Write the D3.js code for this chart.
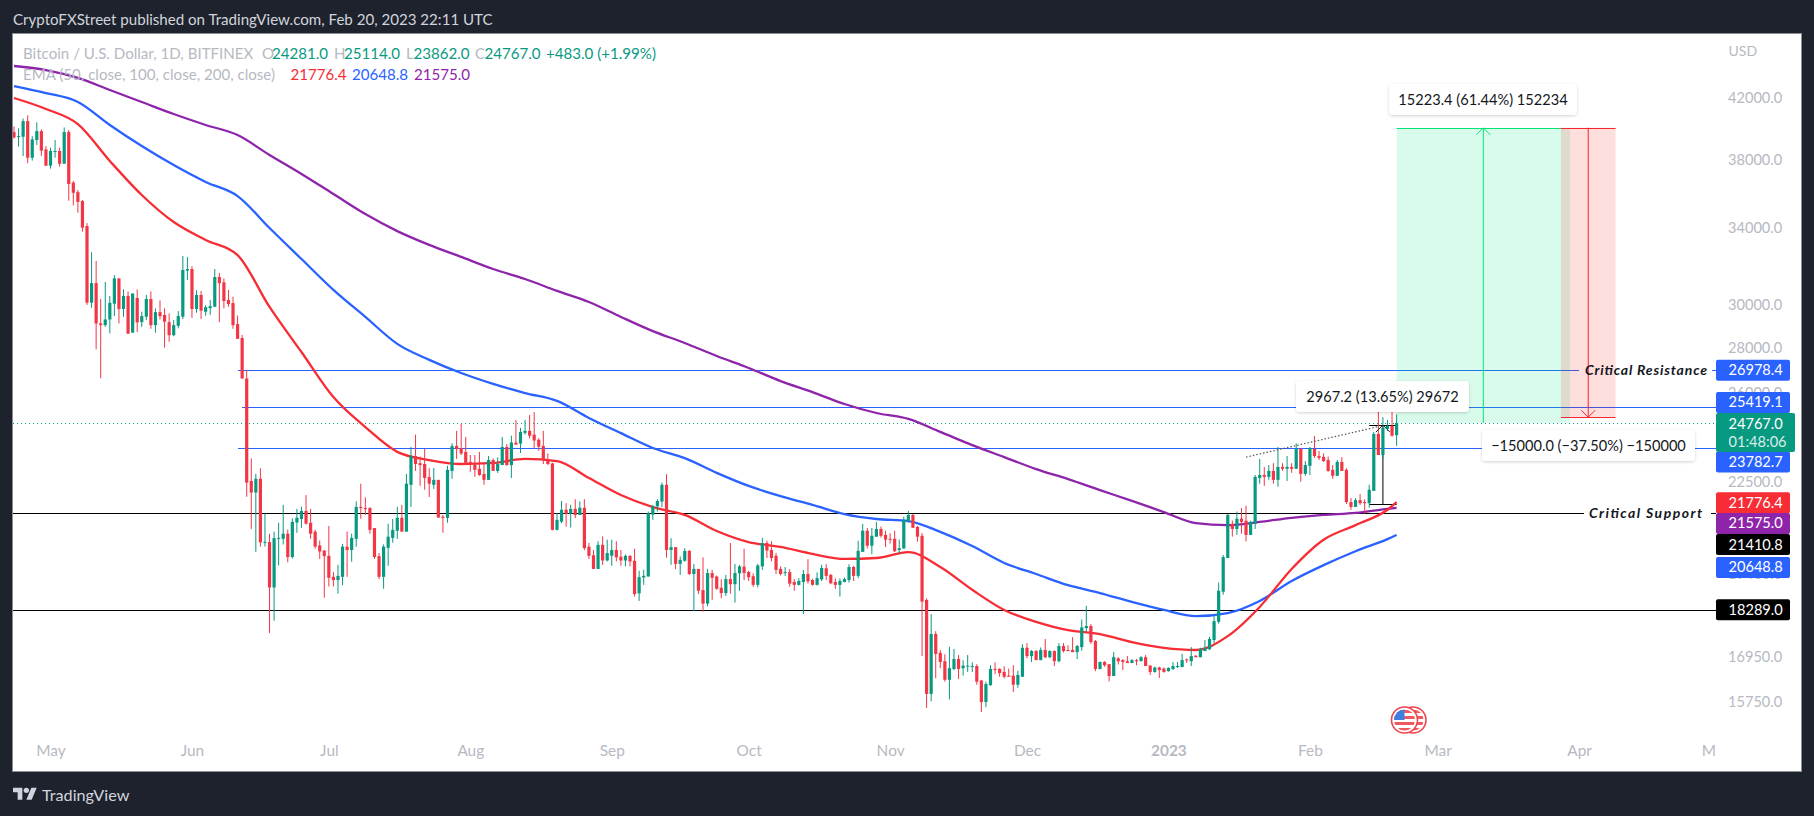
<!DOCTYPE html>
<html>
<head>
<meta charset="utf-8">
<style>
    html, body { margin: 0; padding: 0; background: #1e222d; overflow: hidden; }
    text { font-family: Lato, 'Noto Sans', sans-serif; }
</style>
<script src="https://cdn.jsdelivr.net/npm/d3@7"></script>
</head>
<body>
<div id="chart"></div>
<script>
// daily bars, one row per month, first bar is Apr 23 2022
const firstBar = new Date(2022, 3, 23);

const opens = [
    39720,39420,39420,40430,38100,39210,39780,38620,
    37610,38480,38520,37730,39720,36590,36030,35510,34100,30110,31080,29110,29030,29300,30060,31320,29800,30440,28680,30340,29170,29430,30290,29030,29650,29510,29170,28560,29000,29430,31720,
    31800,29800,30490,29670,29840,29910,31390,31120,30240,30090,29080,28430,26620,22540,22120,22620,20400,20410,18960,20530,20520,20690,19920,21070,21190,21470,21060,20760,20300,20130,
    19960,19290,19190,19290,20260,20150,20520,21610,21570,21570,20880,19950,19290,20220,20550,20790,21230,20760,22400,23470,23200,23170,22680,22400,22580,21270,21230,22910,23860,23780,23630,
    23250,23130,22990,22800,22580,23320,22910,23130,23820,23130,23990,23950,24370,24450,24300,24100,23860,23320,23190,20820,21100,21510,21370,21540,21330,21580,20260,19980,19540,20320,19810,
    19960,20150,19930,19810,19960,19800,18780,19270,19300,21340,21630,21800,22400,20150,20240,19700,19800,20120,19380,19540,18880,18470,19410,19300,18950,18790,19220,19060,19400,19610,
    19440,19310,19040,19620,20380,20150,19960,19540,19410,19440,19130,19040,19130,19380,19190,19040,19210,19560,19350,19130,19040,19130,19190,19600,19320,20090,20790,20290,20590,20850,20650,
    20520,20520,20150,20200,21130,21330,20920,20620,18580,15950,17580,17050,16820,16320,16610,16880,16630,16690,16670,16690,16300,15740,16180,16610,16610,16530,16430,16430,16190,16400,
    17190,16960,17100,16850,17130,16930,17100,16820,17240,17130,17130,17070,17210,17750,17810,17380,16610,16800,16740,16420,16900,16850,16820,16770,16850,16820,16930,16700,16530,16650,16620,
    16550,16610,16660,16660,16870,16820,16970,16930,17100,17150,17410,17930,18830,19890,21025,20850,21200,21130,20650,21020,22650,22760,22690,22910,22580,23060,22990,23060,22990,23740,22800,
    23100,23740,23470,23440,23320,22950,22730,23250,22950,21780,21610,21850,21780,21740,22180,24330,23510,24530,24650,24281
];
const highs = [
    40080,39950,40600,40810,39460,40350,39890,38830,
    38730,39210,38730,40020,39850,36690,36150,35570,34260,32680,32220,30290,31140,30440,31490,31320,30770,30660,30560,30770,29670,30490,30660,29830,30220,29830,29590,29270,29700,32480,32430,
    31950,30720,30690,29990,30240,31800,31600,31320,30740,30400,29490,28570,26980,23380,22800,23010,21380,20680,20760,21060,21680,20830,21210,21540,21620,22030,21540,20820,20460,20150,
    20950,19440,19670,20350,20760,20690,21810,22440,21950,21600,20880,20050,20330,21030,21190,21610,21680,22800,23820,24300,23450,23740,23010,23020,22580,21330,23100,23960,24450,24730,24210,
    23510,23510,23630,23210,23470,23380,23420,24210,23930,24260,24890,24570,24890,25090,25210,24160,24450,23570,23220,21390,21820,21740,21680,21880,21800,21880,20380,20150,20440,20600,20490,
    20490,20440,20150,20000,19980,20190,19480,19510,21450,21680,21880,22480,22790,20540,20240,19940,20210,20150,19700,19540,19910,19540,19510,19330,19210,19350,20380,19700,19670,20190,
    19480,19400,19700,20550,20460,20440,20050,19620,19600,19530,19220,19250,19510,19850,19230,19430,19670,19690,19380,19240,19240,19270,19690,19640,20450,21020,20880,20880,21090,20930,20790,
    20710,20790,20490,21270,21470,21360,20950,20710,18630,18160,17660,17130,17010,17220,17160,16990,16850,16990,16790,16740,16320,16270,16710,16790,16630,16680,16620,16710,16560,17290,
    17320,17130,17130,17200,17440,17120,17120,17320,17320,17260,17490,17270,18000,18400,17870,17410,16810,16820,16740,17070,16930,16880,16960,16880,16880,16960,16990,16720,16670,16670,16650,
    16650,16800,16800,17020,16890,17210,16990,17190,17410,17500,18100,19110,19990,21360,21140,21450,21570,21650,21130,22760,23360,23060,23130,23200,23820,23200,23470,23200,23960,23780,23280,
    23820,24250,23660,23570,23450,23130,23320,23430,23010,21920,21920,22070,21880,22400,24410,25260,25000,24890,25240,25114
];
const lows = [
    39310,38790,38210,37760,37920,38890,38210,37610,
    37430,38100,37550,37730,35530,35260,34850,33790,30000,29860,27910,26630,28950,28650,29460,29110,29430,28630,28680,28710,28950,29270,28860,28680,29300,27990,28260,28510,28880,29320,31240,
    29380,29620,29320,29480,29520,29910,29170,29830,29910,28860,28390,26620,21970,20850,20090,20260,20260,17610,17960,19650,20330,19750,19870,20720,20890,21000,20520,20190,19860,18650,
    18990,18990,18770,19030,19290,19770,20260,21200,21330,20690,19860,19220,18920,19640,20390,20520,20760,20760,21610,22910,22360,22220,21960,22250,21240,20720,21060,22620,23360,23510,23210,
    22880,22690,22730,22400,22580,22910,22840,23130,23100,22650,23910,23590,24300,24150,23770,23670,23170,23130,20800,20800,21050,20930,20900,21220,21330,20150,19860,19540,19540,19670,19780,
    19640,19780,19640,19620,19620,18680,18550,19040,19300,21160,21450,21600,19900,19670,19530,19350,19770,19350,18250,18760,18230,18390,18580,18890,18630,18700,18770,18500,18860,19190,
    19160,18980,18960,19510,19890,19780,19380,19330,19320,18980,18860,19020,18160,19080,19020,19020,19160,19190,19060,18920,18680,19120,19110,19160,19250,20090,20200,20010,20590,20560,20250,
    20360,20080,20040,20190,21070,20890,20420,16960,15590,15760,16360,16630,16270,15810,16580,16340,16430,16530,16530,16190,15490,15610,16160,16470,16400,16360,16400,16000,16110,16400,
    16900,16800,16850,16850,16900,16900,16690,16790,17060,17100,17070,16880,17110,17650,17300,16550,16600,16670,16280,16420,16730,16580,16770,16770,16710,16820,16690,16450,16510,16370,16510,
    16540,16580,16640,16660,16770,16690,16930,16930,17100,17130,17320,17880,18740,19890,20590,20650,20690,20430,20650,20850,22440,22360,22580,22440,22330,22910,22540,22840,22990,22510,22730,
    22760,23400,23320,23250,22880,22620,22730,22910,21710,21510,21610,21680,21370,21580,22180,23510,23370,24450,24220,23862
];
const closes = [
    39370,39460,40430,38100,39250,39780,38540,37610,
    38520,38520,37730,39720,36510,35990,35460,34010,30110,31080,29110,29030,29300,30100,31320,29800,30440,28630,30560,29160,29460,30290,29030,29650,29460,29190,28560,29030,29460,31750,31800,
    29800,30490,29720,29890,29940,31390,31080,30190,30040,29030,28390,26620,22480,22120,22620,20400,20420,18960,20540,20550,20690,19920,21090,21230,21470,21030,20690,20260,20100,19950,
    19260,19190,19320,20260,20150,20550,21610,21570,21540,20820,19920,19290,20260,20590,20820,21230,20760,22440,23470,23170,23130,22650,22440,22580,21240,21230,22950,23860,23740,23570,23210,
    23210,22950,22760,22580,23320,22910,23170,23820,23130,23990,23910,24410,24450,24260,24070,23830,23320,23170,20820,21160,21510,21370,21540,21330,21580,20210,19960,19540,20320,19810,20050,
    20150,19910,19810,19960,19780,18760,19280,19320,21390,21640,21820,22400,20150,20240,19700,19830,20120,19380,19540,18860,18470,19410,19260,18920,18790,19220,19060,19410,19620,19410,
    19280,19040,19650,20380,20130,19890,19510,19380,19440,19080,19040,19160,19380,19150,19040,19250,19570,19320,19090,19040,19160,19220,19600,19320,20120,20790,20290,20620,20850,20620,20490,
    20490,20110,20210,21160,21330,20890,20590,18530,15950,17580,17020,16800,16320,16630,16880,16610,16700,16700,16690,16270,15740,16210,16610,16580,16500,16400,16400,16190,16450,17190,
    16960,17100,16850,17130,16930,17100,16820,17240,17100,17100,17070,17240,17770,17810,17350,16610,16800,16710,16420,16930,16820,16800,16770,16850,16820,16930,16690,16530,16650,16580,16530,
    16640,16690,16690,16850,16850,16960,16930,17160,17190,17440,17950,18860,19920,21330,20850,21200,21090,20650,21090,22690,22760,22690,22910,22580,23060,22990,23060,22990,23740,22800,23130,
    23780,23470,23400,23280,22910,22730,23250,22910,21780,21610,21850,21740,21740,22220,24330,23510,24570,24650,24260,24767
];

const emaDates = d3.timeDay.range(firstBar, new Date(2023, 1, 19), 7).concat([new Date(2023, 1, 20)]);
const ema50 = [
    41980,41240,40240,37900,35860,34320,33340,32530,29900,27790,
    25830,24600,23630,23320,23170,23210,23360,23280,22650,22030,
    21600,21330,20780,20410,20250,20020,19860,19890,20080,19600,
    18890,18280,17930,17690,17580,17350,17190,17130,17520,18370,
    19540,20490,20980,21510,21776.4
];
const ema100 = [
    42805,42320,41710,40180,38830,37650,36630,35800,33990,32320,
    30740,29420,28160,27440,26860,26390,26000,25670,24970,24360,
    23780,23390,22840,22360,21990,21680,21360,21190,21120,20750,
    20280,19730,19380,19030,18790,18520,18280,18100,18190,18550,
    19160,19660,20110,20510,20648.8
];
const ema200 = [
    44220,43930,43370,42530,41710,40900,40180,39530,38270,37110,
    35920,34770,33820,33070,32430,31800,31290,30690,30140,29420,
    28750,28200,27610,27080,26510,26040,25540,25170,24930,24410,
    23890,23430,22980,22610,22210,21820,21430,21050,20980,21090,
    21230,21330,21400,21540,21575
];

const priceTicks = [42000, 38000, 34000, 30000, 28000, 26000, 22500, 19400, 16950, 15750];
const monthTicks = d3.timeMonth.range(new Date(2022, 4, 1), new Date(2023, 4, 2));

// horizontal levels drawn on the chart
const levelResistance = 26978.4;
const levelMid = 25419.1;
const levelLower = 23782.7;
const levelSupport = 21410.8;
const levelFloor = 18289.0;
const lastPrice = 24767.0;

// position tools
const longTop = 39990.4;
const shortTop = 40000;
const shortBottom = 25000;
const rangeLow = 21714;
const rangeHigh = 24681.2;
const trendStart = { date: new Date(2023, 0, 18), price: 23430 };
const trendEnd = { date: new Date(2023, 1, 16), price: 24620 };

const width = 1814;
const height = 816;
const frame = { left: 13, top: 34, right: 1801, bottom: 771 };
const axisLeft = 1716;

const colors = {
    bg: '#1e222d',
    up: '#089981',
    down: '#f23645',
    blue: '#2962ff',
    red: '#f72c35',
    purple: '#8e24aa',
    muted: '#b6b9c2',
    ink: '#131722',
    zoneGreen: 'rgba(0, 230, 118, 0.15)',
    zoneRed: 'rgba(255, 0, 0, 0.13)',
    lineGreen: '#00e676',
    lineRed: '#f7252c'
};

const xScale = d3
    .scaleTime()
    .domain([new Date(2022, 4, 1), new Date(2023, 1, 20)])
    .range([50.5, 1396.6]);

const yScale = d3
    .scaleLog()
    .domain([42000, 15750])
    .range([97.7, 701.7]);

const bars = opens.map((o, i) => ({
    date: d3.timeDay.offset(firstBar, i),
    open: o,
    high: highs[i],
    low: lows[i],
    close: closes[i]
}));

const svg = d3
    .select('#chart')
    .append('svg')
    .attr('width', width)
    .attr('height', height)
    .style('display', 'block');

const defs = svg.append('defs');
defs.append('clipPath').attr('id', 'pane')
    .append('rect')
    .attr('x', frame.left)
    .attr('y', frame.top)
    .attr('width', axisLeft - frame.left)
    .attr('height', frame.bottom - frame.top);

const shadow = defs.append('filter').attr('id', 'soft')
    .attr('x', '-10%').attr('y', '-30%').attr('width', '120%').attr('height', '170%');
shadow.append('feDropShadow')
    .attr('dx', 0).attr('dy', 1).attr('stdDeviation', 1.5)
    .attr('flood-color', '#000').attr('flood-opacity', 0.18);

// page and chart frame
svg.append('rect').attr('width', width).attr('height', height).attr('fill', colors.bg);
svg.append('rect')
    .attr('x', frame.left - 0.5)
    .attr('y', frame.top - 0.5)
    .attr('width', frame.right - frame.left + 1)
    .attr('height', frame.bottom - frame.top + 1)
    .attr('fill', '#fff')
    .attr('stroke', '#8b8e96');

svg.append('text')
    .attr('x', 13).attr('y', 25)
    .attr('fill', '#d1d4dc')
    .style('font-size', '15.1px')
    .text('CryptoFXStreet published on TradingView.com, Feb 20, 2023 22:11 UTC');

const pane = svg.append('g').attr('clip-path', 'url(#pane)');

const hLine = (price, x1, x2, stroke, dash) => pane.append('line')
    .attr('x1', x1).attr('x2', x2)
    .attr('y1', Math.round(yScale(price)) + 0.5)
    .attr('y2', Math.round(yScale(price)) + 0.5)
    .attr('stroke', stroke)
    .attr('stroke-width', 1)
    .attr('stroke-dasharray', dash || null);

// labels on the lines keep a gap, so those lines come in two pieces
hLine(levelResistance, 238, 1579, colors.blue);
hLine(levelResistance, 1712, axisLeft, colors.blue);
hLine(levelMid, 242, axisLeft, colors.blue);
hLine(levelLower, 238, axisLeft, colors.blue);
hLine(levelSupport, frame.left, 1584, '#000');
hLine(levelSupport, 1711, axisLeft, '#000');
hLine(levelFloor, frame.left, axisLeft, '#000');
hLine(lastPrice, frame.left, axisLeft, colors.up, '1 3');

// range measure, sits behind the bars
const rangeLeft = new Date(2023, 1, 14);
const rangeMid = new Date(2023, 1, 17);
const rangeRight = new Date(2023, 1, 20);
pane.append('line')
    .attr('x1', xScale(rangeMid)).attr('x2', xScale(rangeMid))
    .attr('y1', yScale(rangeLow)).attr('y2', yScale(rangeHigh))
    .attr('stroke', '#000');
[rangeLow, rangeHigh].forEach(p => {
    pane.append('line')
        .attr('x1', xScale(rangeLeft)).attr('x2', xScale(rangeRight))
        .attr('y1', Math.round(yScale(p)) + 0.5).attr('y2', Math.round(yScale(p)) + 0.5)
        .attr('stroke', '#000');
});

// EMA lines
const emaLine = d3.line()
    .x((d, i) => xScale(emaDates[i]))
    .y(d => yScale(d))
    .curve(d3.curveMonotoneX);

[[ema200, colors.purple], [ema100, colors.blue], [ema50, colors.red]].forEach(([series, stroke]) => {
    pane.append('path')
        .datum(series)
        .attr('fill', 'none')
        .attr('stroke', stroke)
        .attr('stroke-width', 2.3)
        .attr('d', emaLine);
});

// note boxes come before the zones, the zones tint them
const noteBox = (x1, x2, y1, y2, label) => {
    const g = svg.append('g');
    g.append('rect')
        .attr('x', x1).attr('y', y1)
        .attr('width', x2 - x1).attr('height', y2 - y1)
        .attr('rx', 4)
        .attr('fill', '#fff')
        .attr('filter', 'url(#soft)');
    g.append('text')
        .attr('x', (x1 + x2) / 2).attr('y', (y1 + y2) / 2 + 5)
        .attr('text-anchor', 'middle')
        .attr('fill', colors.ink)
        .style('font-size', '14.6px')
        .text(label);
};
noteBox(1296, 1469, 381, 412, '2967.2 (13.65%) 29672');

// bars
const candles = pane.selectAll('g.bar')
    .data(bars)
    .enter()
    .append('g')
    .attr('class', 'bar')
    .attr('transform', d => `translate(${xScale(d.date)},0)`);

candles.append('line')
    .attr('y1', d => yScale(d.high))
    .attr('y2', d => yScale(d.low))
    .attr('stroke', d => (d.close >= d.open ? colors.up : colors.down))
    .attr('stroke-width', 1);

candles.append('rect')
    .attr('x', -1.6)
    .attr('width', 3.2)
    .attr('y', d => yScale(Math.max(d.open, d.close)))
    .attr('height', d => Math.max(1, Math.abs(yScale(d.open) - yScale(d.close))))
    .attr('fill', d => (d.close >= d.open ? colors.up : colors.down));

// trend line and arrow head over the bars
pane.append('line')
    .attr('x1', xScale(trendStart.date)).attr('y1', yScale(trendStart.price))
    .attr('x2', xScale(trendEnd.date)).attr('y2', yScale(trendEnd.price))
    .attr('stroke', '#555')
    .attr('stroke-width', 1.2)
    .attr('stroke-dasharray', '1.5 2');

const chevron = (x, y, dir, stroke, size) => pane.append('path')
    .attr('d', `M${x - size},${y + dir * size}L${x},${y}L${x + size},${y + dir * size}`)
    .attr('fill', 'none')
    .attr('stroke', stroke);

chevron(xScale(rangeMid), yScale(rangeHigh), 1, '#222', 7);

// long and short zones
const longLeft = new Date(2023, 1, 20);
const longRight = new Date(2023, 2, 30);
const shortLeft = new Date(2023, 2, 28);
const shortRight = new Date(2023, 3, 9);
const longArrow = new Date(2023, 2, 11);
const shortArrow = new Date(2023, 3, 3);

pane.append('rect')
    .attr('x', xScale(longLeft)).attr('width', xScale(longRight) - xScale(longLeft))
    .attr('y', yScale(longTop)).attr('height', yScale(lastPrice) - yScale(longTop))
    .attr('fill', colors.zoneGreen);
pane.append('rect')
    .attr('x', xScale(shortLeft)).attr('width', xScale(shortRight) - xScale(shortLeft))
    .attr('y', yScale(shortTop)).attr('height', yScale(shortBottom) - yScale(shortTop))
    .attr('fill', colors.zoneRed);

const segH = (x1, x2, price, stroke) => pane.append('line')
    .attr('x1', xScale(x1)).attr('x2', xScale(x2))
    .attr('y1', Math.round(yScale(price)) + 0.5).attr('y2', Math.round(yScale(price)) + 0.5)
    .attr('stroke', stroke);

segH(longLeft, shortLeft, longTop, colors.lineGreen);
segH(shortLeft, shortRight, shortTop, colors.lineRed);
segH(shortLeft, shortRight, shortBottom, colors.lineRed);

pane.append('line')
    .attr('x1', xScale(longArrow)).attr('x2', xScale(longArrow))
    .attr('y1', yScale(lastPrice)).attr('y2', yScale(longTop))
    .attr('stroke', colors.lineGreen);
chevron(xScale(longArrow), yScale(longTop), 1, colors.lineGreen, 7);
pane.append('line')
    .attr('x1', xScale(shortArrow)).attr('x2', xScale(shortArrow))
    .attr('y1', yScale(shortTop)).attr('y2', yScale(shortBottom))
    .attr('stroke', colors.lineRed);
chevron(xScale(shortArrow), yScale(shortBottom), -1, colors.lineRed, 7);

noteBox(1389, 1577, 84, 115, '15223.4 (61.44%) 152234');
noteBox(1482, 1695, 430, 461, '\u221215000.0 (\u221237.50%) \u2212150000');

// text on the levels
const levelText = (x, price, label, span) => svg.append('text')
    .attr('x', x).attr('y', yScale(price) + 5)
    .attr('fill', colors.ink)
    .attr('textLength', span)
    .attr('lengthAdjust', 'spacing')
    .style('font-size', '14px')
    .style('font-weight', 700)
    .style('font-style', 'italic')
    .text(label);
levelText(1585, levelResistance, 'Critical Resistance', 122);
levelText(1589, levelSupport, 'Critical Support', 113);

// currency flag coins
const coin = (cx, cy, r) => {
    const g = svg.append('g');
    const id = `coin${Math.round(cx)}`;
    defs.append('clipPath').attr('id', id)
        .append('circle').attr('cx', cx).attr('cy', cy).attr('r', r - 2.5);
    g.append('circle').attr('cx', cx).attr('cy', cy).attr('r', r)
        .attr('fill', '#fff').attr('stroke', '#f0444e').attr('stroke-width', 1.6);
    const inner = g.append('g').attr('clip-path', `url(#${id})`);
    d3.range(0, 4).forEach(i => {
        inner.append('rect')
            .attr('x', cx - r).attr('y', cy - r + 3 + i * 6)
            .attr('width', 2 * r).attr('height', 3)
            .attr('fill', '#f0585f');
    });
    inner.append('rect')
        .attr('x', cx - r).attr('y', cy - r)
        .attr('width', r).attr('height', r)
        .attr('fill', '#3f7fe0');
};
coin(1413, 720, 13);
coin(1404.5, 720, 13);

// axes
const yAxis = svg.append('g')
    .attr('transform', `translate(${axisLeft},0)`)
    .call(d3.axisRight(yScale).tickValues(priceTicks).tickFormat(d3.format('.1f')).tickSize(0).tickPadding(12));
yAxis.select('.domain').remove();
yAxis.selectAll('text')
    .attr('fill', colors.muted)
    .style('font-family', 'Lato, sans-serif')
    .style('font-size', '14.6px');

svg.append('text')
    .attr('x', 1728.5).attr('y', 56)
    .attr('fill', colors.muted)
    .style('font-size', '14px')
    .text('USD');

const xClip = svg.append('g').attr('clip-path', 'url(#pane)');
const xAxis = xClip.append('g')
    .attr('transform', 'translate(0,745)')
    .call(d3.axisBottom(xScale)
        .tickValues(monthTicks)
        .tickSize(0)
        .tickPadding(0)
        .tickFormat(d => (d.getMonth() === 0 ? d3.timeFormat('%Y')(d) : d3.timeFormat('%b')(d))));
xAxis.select('.domain').remove();
xAxis.selectAll('text')
    .attr('fill', colors.muted)
    .style('font-family', 'Lato, sans-serif')
    .style('font-size', '15.4px')
    .style('font-weight', d => (d.getMonth() === 0 ? 700 : 400));

// price tags on the axis, centre given by the stacking tradingview does
const tag = (label, fill, centre) => {
    const h = 21;
    svg.append('rect')
        .attr('x', axisLeft).attr('y', centre - h / 2)
        .attr('width', 74).attr('height', h)
        .attr('rx', 2)
        .attr('fill', fill);
    svg.append('text')
        .attr('x', 1728.5).attr('y', centre + 5)
        .attr('fill', '#fff')
        .style('font-size', '14.6px')
        .text(label);
};

tag(d3.format('.1f')(levelResistance), colors.blue, yScale(levelResistance));
tag(d3.format('.1f')(levelMid), colors.blue, yScale(levelMid) - 4.5);
tag(d3.format('.1f')(levelLower), colors.blue, yScale(levelLower) + 14);
tag(d3.format('.1f')(levelFloor), '#000', yScale(levelFloor));
tag(d3.format('.1f')(ema50[ema50.length - 1]), colors.red, yScale(ema50[ema50.length - 1]) + 0.5);
tag(d3.format('.1f')(ema200[ema200.length - 1]), colors.purple, yScale(ema200[ema200.length - 1]) + 15.5);
tag(d3.format('.1f')(levelSupport), '#000', yScale(levelSupport) + 32);
tag(d3.format('.1f')(ema100[ema100.length - 1]), colors.blue, yScale(ema100[ema100.length - 1]) + 32.5);

// last price tag is two lines high
svg.append('rect')
    .attr('x', axisLeft).attr('y', 413)
    .attr('width', 79).attr('height', 39)
    .attr('rx', 2)
    .attr('fill', colors.up);
svg.append('text')
    .attr('x', 1728.5).attr('y', 429)
    .attr('fill', '#fff')
    .style('font-size', '14.6px')
    .text(d3.format('.1f')(lastPrice));
svg.append('text')
    .attr('x', 1728.5).attr('y', 447)
    .attr('fill', 'rgba(255,255,255,0.85)')
    .style('font-size', '14.6px')
    .text('01:48:06');

// legend
const legendLine = (y, pieces) => {
    pieces.forEach(([x, label, fill]) => {
        svg.append('text')
            .attr('x', x).attr('y', y)
            .attr('fill', fill)
            .style('font-size', '15.1px')
            .text(label);
    });
};
legendLine(59, [
    [23, 'Bitcoin / U.S. Dollar, 1D, BITFINEX', colors.muted],
    [262, 'O', colors.muted],
    [272, d3.format('.1f')(opens[opens.length - 1]), colors.up],
    [334, 'H', colors.muted],
    [344, d3.format('.1f')(highs[highs.length - 1]), colors.up],
    [406, 'L', colors.muted],
    [413.5, d3.format('.1f')(lows[lows.length - 1]), colors.up],
    [475, 'C', colors.muted],
    [484.5, d3.format('.1f')(closes[closes.length - 1]), colors.up],
    [546, '+483.0 (+1.99%)', colors.up]
]);
legendLine(80, [
    [23, 'EMA (50, close, 100, close, 200, close)', colors.muted],
    [290.5, d3.format('.1f')(ema50[ema50.length - 1]), colors.red],
    [352, d3.format('.1f')(ema100[ema100.length - 1]), colors.blue],
    [414, d3.format('.1f')(ema200[ema200.length - 1]), colors.purple]
]);

// footer logo
const logo = svg.append('g')
    .attr('transform', 'translate(13,785) scale(0.667)')
    .attr('fill', '#d1d4dc');
logo.append('path').attr('d', 'M14 22H7V11H0V4h14v18zM28 22h-8l7.5-18h8L28 22z');
logo.append('circle').attr('cx', 20).attr('cy', 8).attr('r', 4);
svg.append('text')
    .attr('x', 42).attr('y', 800.5)
    .attr('fill', '#d1d4dc')
    .style('font-size', '16.2px')
    .text('TradingView');
</script>
</body>
</html>
